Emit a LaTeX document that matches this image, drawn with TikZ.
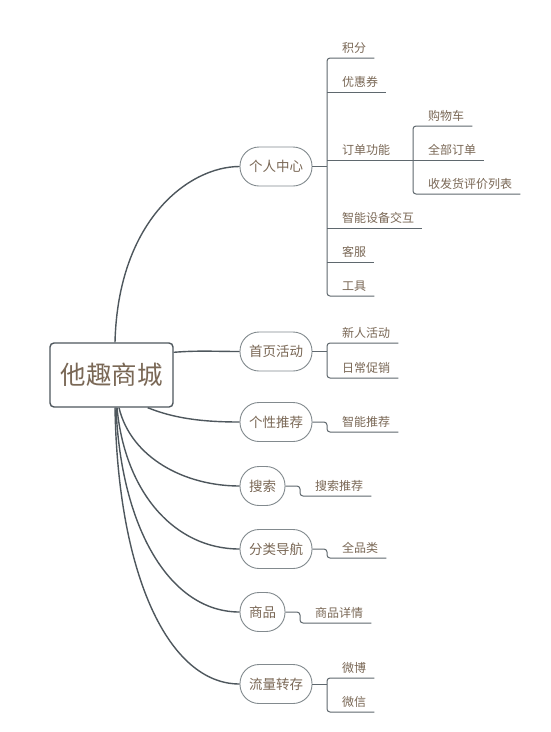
\documentclass[tikz,border=0pt]{standalone}
\usepackage{fontspec}
\setmainfont{Noto Sans CJK SC}
\usetikzlibrary{calc}
\definecolor{txt}{RGB}{122,104,86}
\definecolor{ln}{RGB}{78,87,93}
\definecolor{pillc}{RGB}{130,138,142}
\definecolor{sub}{RGB}{95,104,110}
\begin{document}
\begin{tikzpicture}[x=1pt,y=-1pt,
  rootbox/.style={draw=ln, line width=1.4pt, rounded corners=4pt, fill=white, minimum width=123pt, minimum height=64pt, inner sep=0pt, text=txt, font=\fontsize{25.5}{30}\selectfont},
  pill/.style={draw=pillc, line width=0.9pt, rounded corners=19pt, fill=white, minimum height=39pt, inner sep=0pt, text=txt, font=\fontsize{13.5}{16}\selectfont},
  leaf/.style={anchor=south west, inner xsep=0pt, inner ysep=0pt, text height=10pt, text depth=5.5pt, text=txt, font=\fontsize{12}{14}\selectfont},
  mainline/.style={draw=ln, line width=1.4pt},
  branch/.style={draw=sub, line width=1pt, rounded corners=3pt},
]
\useasboundingbox[fill=white] (0,0) rectangle (550,732);

% root
\node[rootbox] (root) at (111.5,375) {他趣商城};

% main branches
\node[pill, minimum width=72pt] (b1) at (276,166.5) {个人中心};
\node[pill, minimum width=72pt] (b2) at (276,351.5) {首页活动};
\node[pill, minimum width=72pt] (b3) at (276,422) {个性推荐};
\node[pill, minimum width=45pt] (b4) at (262.5,486) {搜索};
\node[pill, minimum width=72pt] (b5) at (276,549) {分类导航};
\node[pill, minimum width=45pt] (b6) at (262.5,612) {商品};
\node[pill, minimum width=72pt] (b7) at (276,684) {流量转存};

% leaves
\node[leaf] (c11) at (342,58) {积分};
\node[leaf] (c12) at (342,92) {优惠券};
\node[leaf] (c13) at (342,160) {订单功能};
\node[leaf] (c14) at (342,228) {智能设备交互};
\node[leaf] (c15) at (342,262) {客服};
\node[leaf] (c16) at (342,296) {工具};
\node[leaf] (d1) at (428,126) {购物车};
\node[leaf] (d2) at (428,160) {全部订单};
\node[leaf] (d3) at (428,194) {收发货评价列表};
\node[leaf] (c21) at (342,343) {新人活动};
\node[leaf] (c22) at (342,378) {日常促销};
\node[leaf] (c31) at (342,432) {智能推荐};
\node[leaf] (c41) at (315,496) {搜索推荐};
\node[leaf] (c51) at (342,558) {全品类};
\node[leaf] (c61) at (315,623) {商品详情};
\node[leaf] (c71) at (342,678) {微博};
\node[leaf] (c72) at (342,712) {微信};

% root curves
\draw[mainline] ($(root.north)+(3.5,0)$) .. controls +(3,-123) and +(-50,0) .. (b1.west);
\draw[mainline] ($(root.north east)+(0,10)$) .. controls +(25,-2) and +(-25,0) .. (b2.west);
\draw[mainline] ($(root.south east)+(-26,0)$) .. controls +(25,10) and +(-40,0) .. (b3.west);
\draw[mainline] ($(root.south)+(7.5,0)$) .. controls +(12,50) and +(-55,0) .. (b4.west);
\draw[mainline] ($(root.south)+(5.5,0)$) .. controls +(8,85) and +(-65,0) .. (b5.west);
\draw[mainline] ($(root.south)+(4.5,0)$) .. controls +(5,120) and +(-70,0) .. (b6.west);
\draw[mainline] ($(root.south)+(3.5,0)$) .. controls +(3,170) and +(-70,0) .. (b7.west);

% 个人中心
\draw[branch] (b1.east) -- ++(15,0);
\draw[branch] ([xshift=8pt]c11.south east) -- ([xshift=-15pt]c11.south west) -- ([xshift=-15pt]c16.south west) -- ([xshift=8pt]c16.south east);
\draw[branch] ([xshift=-15pt]c12.south west) -- ([xshift=8pt]c12.south east);
\draw[branch] ([xshift=-15pt]c13.south west) -- ([xshift=8pt]d2.south east);
\draw[branch] ([xshift=-15pt]c14.south west) -- ([xshift=8pt]c14.south east);
\draw[branch] ([xshift=-15pt]c15.south west) -- ([xshift=8pt]c15.south east);
\draw[branch] ([xshift=8pt]d1.south east) -- ([xshift=-15pt]d1.south west) -- ([xshift=-15pt]d3.south west) -- ([xshift=8pt]d3.south east);

% 首页活动
\draw[branch] (b2.east) -- ++(15,0);
\draw[branch] ([xshift=8pt]c21.south east) -- ([xshift=-15pt]c21.south west) -- ([xshift=-15pt]c22.south west) -- ([xshift=8pt]c22.south east);

% single-child branches
\draw[branch] (b3.east) -| ([xshift=-15pt]c31.south west) -- ([xshift=8pt]c31.south east);
\draw[branch] (b4.east) -| ([xshift=-15pt]c41.south west) -- ([xshift=8pt]c41.south east);
\draw[branch] (b5.east) -| ([xshift=-15pt]c51.south west) -- ([xshift=8pt]c51.south east);
\draw[branch] (b6.east) -| ([xshift=-15pt]c61.south west) -- ([xshift=8pt]c61.south east);

% 流量转存
\draw[branch] (b7.east) -- ++(15,0);
\draw[branch] ([xshift=8pt]c71.south east) -- ([xshift=-15pt]c71.south west) -- ([xshift=-15pt]c72.south west) -- ([xshift=8pt]c72.south east);
\end{tikzpicture}
\end{document}
